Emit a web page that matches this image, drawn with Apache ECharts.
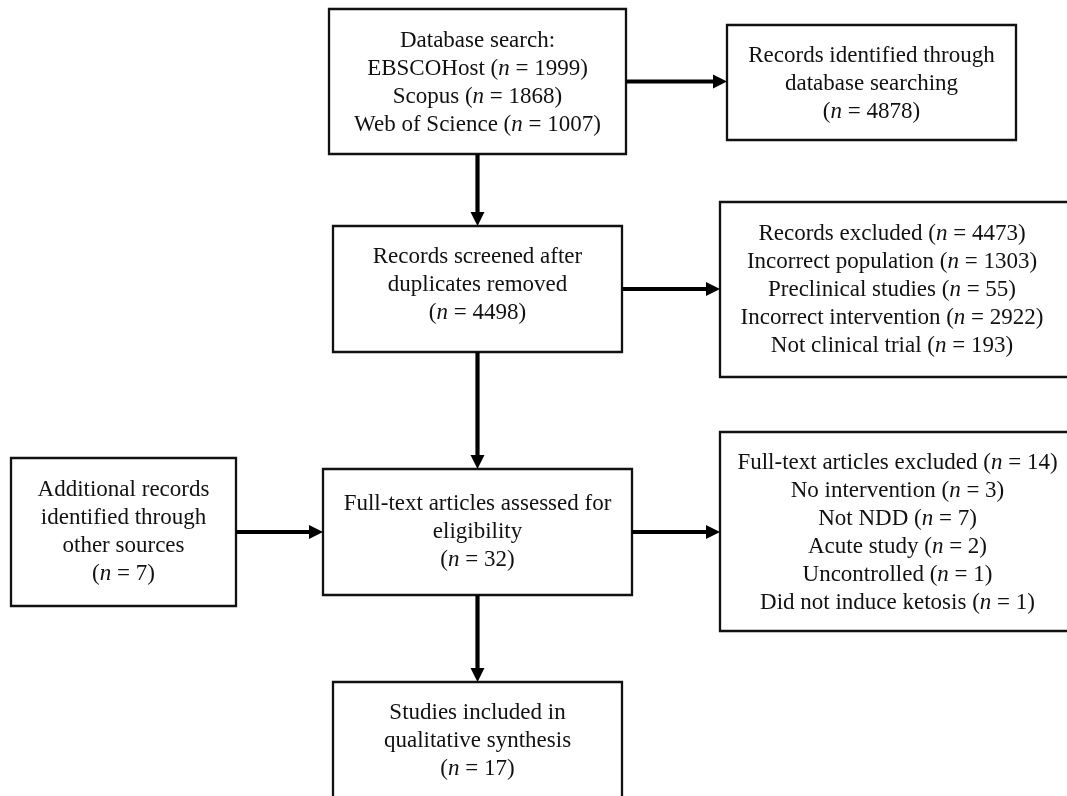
<!DOCTYPE html>
<html>
<head>
<meta charset="utf-8">
<script src="https://cdn.jsdelivr.net/npm/echarts@6/dist/echarts.min.js"></script>
<style>
html,body{margin:0;padding:0;background:#fff;}
#main{width:1067px;height:796px;}
</style>
</head>
<body>
<div id="main"></div>
<script>
// ---- data ----
const dbSources = ['EBSCOHost', 'Scopus', 'Web of Science'];
const dbCounts = [1999, 1868, 1007];
const identifiedTotal = 4878;
const screenedTotal = 4498;
const excludedTotal = 4473;
const excludedReasons = ['Incorrect population', 'Preclinical studies', 'Incorrect intervention', 'Not clinical trial'];
const excludedCounts = [1303, 55, 2922, 193];
const additionalTotal = 7;
const assessedTotal = 32;
const ftExcludedTotal = 14;
const ftReasons = ['No intervention', 'Not NDD', 'Acute study', 'Uncontrolled', 'Did not induce ketosis'];
const ftCounts = [3, 7, 2, 1, 1];
const includedTotal = 17;

// edges between boxes: [from, to]
const edges = [[0, 1], [0, 2], [2, 3], [2, 5], [4, 5], [5, 6], [5, 7]];

// ---- layout (box extents in page pixels, text offsets) ----
const layout = [
  { x0: 329, y0: 9, x1: 626, y1: 154, dx: 0, dy: 1 },
  { x0: 727, y0: 25, x1: 1016, y1: 140, dx: 0, dy: 1 },
  { x0: 333, y0: 226, x1: 622, y1: 352, dx: 0, dy: -4 },
  { x0: 720, y0: 202, x1: 1074, y1: 377, dx: -5, dy: 0 },
  { x0: 11, y0: 458, x1: 236, y1: 606, dx: 0, dy: 0 },
  { x0: 323, y0: 469, x1: 632, y1: 595, dx: 0, dy: 0 },
  { x0: 720, y0: 432, x1: 1075, y1: 631, dx: 0, dy: 1 },
  { x0: 333, y0: 682, x1: 622, y1: 798, dx: 0, dy: 1 }
];

const nTxt = v => '({i|n} = ' + v + ')';
const boxLines = [
  ['Database search:'].concat(dbSources.map((s, k) => s + ' ' + nTxt(dbCounts[k]))),
  ['Records identified through', 'database searching', nTxt(identifiedTotal)],
  ['Records screened after', 'duplicates removed', nTxt(screenedTotal)],
  ['Records excluded ' + nTxt(excludedTotal)].concat(excludedReasons.map((s, k) => s + ' ' + nTxt(excludedCounts[k]))),
  ['Additional records', 'identified through', 'other sources', nTxt(additionalTotal)],
  ['Full-text articles assessed for', 'eligibility', nTxt(assessedTotal)],
  ['Full-text articles excluded ' + nTxt(ftExcludedTotal)].concat(ftReasons.map((s, k) => s + ' ' + nTxt(ftCounts[k]))),
  ['Studies included in', 'qualitative synthesis', nTxt(includedTotal)]
];

const FONT = '"Liberation Serif", "Times New Roman", serif';
const FS = 23, LH = 28;

// compute arrow endpoints from box geometry
function arrowFor(e) {
  const a = layout[e[0]], b = layout[e[1]];
  const acx = (a.x0 + a.x1) / 2, acy = (a.y0 + a.y1) / 2;
  if (b.x0 >= a.x1) return [a.x1, acy, b.x0, acy];      // to the right
  return [acx, a.y1, acx, b.y0];                        // downward
}
const arrowData = edges.map(arrowFor);

const chart = echarts.init(document.getElementById('main'), null, { renderer: 'canvas' });
chart.setOption({
  backgroundColor: '#fff',
  animation: false,
  grid: { left: 0, right: 0, top: 0, bottom: 0 },
  xAxis: { type: 'value', min: 0, max: 1067, show: false },
  yAxis: { type: 'value', min: 0, max: 796, inverse: true, show: false },
  series: [
    {
      type: 'custom',
      coordinateSystem: 'cartesian2d',
      clip: false,
      data: boxLines.map((_, i) => [i]),
      renderItem: function (params, api) {
        const i = api.value(0);
        const L = layout[i];
        const p0 = api.coord([L.x0, L.y0]);
        const p1 = api.coord([L.x1, L.y1]);
        const cx = (p0[0] + p1[0]) / 2 + L.dx, cy = (p0[1] + p1[1]) / 2 + L.dy;
        return {
          type: 'group',
          children: [
            {
              type: 'rect',
              shape: { x: p0[0], y: p0[1], width: p1[0] - p0[0], height: p1[1] - p0[1] },
              style: { fill: '#fff', stroke: '#111', lineWidth: 2.3 }
            },
            {
              type: 'text',
              x: cx, y: cy,
              style: {
                text: boxLines[i].join('\n'),
                fill: '#111',
                fontFamily: FONT,
                fontSize: FS,
                lineHeight: LH,
                align: 'center',
                verticalAlign: 'middle',
                rich: {
                  i: { fontStyle: 'italic', fontFamily: FONT, fontSize: FS, lineHeight: LH, fill: '#111' }
                }
              }
            }
          ]
        };
      }
    },
    {
      type: 'custom',
      coordinateSystem: 'cartesian2d',
      clip: false,
      data: arrowData,
      renderItem: function (params, api) {
        const a = api.coord([api.value(0), api.value(1)]);
        const b = api.coord([api.value(2), api.value(3)]);
        const dx = b[0] - a[0], dy = b[1] - a[1];
        const len = Math.sqrt(dx * dx + dy * dy);
        const ux = dx / len, uy = dy / len;
        const nx = -uy, ny = ux;
        const HL = 14, HW = 7;
        const bx = b[0] - ux * HL, by = b[1] - uy * HL;
        return {
          type: 'group',
          children: [
            {
              type: 'line',
              shape: { x1: a[0], y1: a[1], x2: bx + ux * 2, y2: by + uy * 2 },
              style: { stroke: '#000', lineWidth: 4.2 }
            },
            {
              type: 'polygon',
              shape: { points: [[b[0], b[1]], [bx + nx * HW, by + ny * HW], [bx - nx * HW, by - ny * HW]] },
              style: { fill: '#000' }
            }
          ]
        };
      }
    }
  ]
});
</script>
</body>
</html>
